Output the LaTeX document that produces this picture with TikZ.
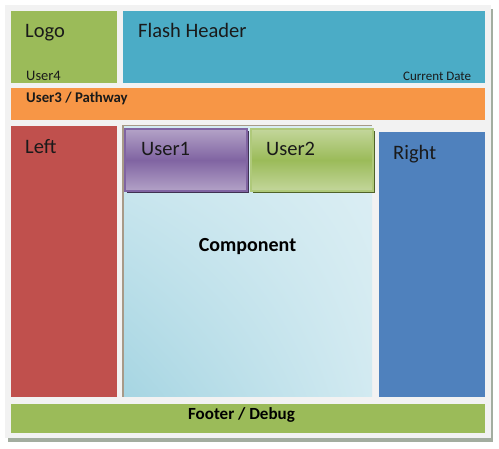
\documentclass[tikz,border=0pt]{standalone}
\usepackage{fontspec}
\setmainfont{Carlito}
\usetikzlibrary{shadings}
\definecolor{frameC}{HTML}{F2F2F2}
\definecolor{shadowC}{HTML}{A3ADA0}
\definecolor{greenC}{HTML}{9BBB59}
\definecolor{cyanC}{HTML}{4BACC6}
\definecolor{orangeC}{HTML}{F79646}
\definecolor{redC}{HTML}{C0504D}
\definecolor{blueC}{HTML}{4F81BD}
\definecolor{purpleC}{HTML}{8064A2}
\definecolor{purpleL}{HTML}{B3A2C7}
\definecolor{purpleD}{HTML}{3F3151}
\definecolor{greenL}{HTML}{C3D69B}
\definecolor{greenD}{HTML}{4F6228}
\definecolor{compDark}{HTML}{A6D5E2}
\definecolor{compLight}{HTML}{DDEFF4}
\definecolor{compMid}{HTML}{D2EAF1}
\definecolor{tanC}{HTML}{A89A88}
\definecolor{txtC}{HTML}{1A1A1A}
\begin{document}
\begin{tikzpicture}[x=1pt,y=-1pt,
  box/.style={draw=none, inner sep=0, outer sep=0, anchor=north west},
  lbl/.style={inner sep=0, anchor=base west, text=txtC},
  big/.style={font=\fontsize{20.5}{24}\selectfont},
  small/.style={font=\fontsize{14.5}{17}\selectfont},
  bsmall/.style={font=\bfseries\fontsize{14.8}{18}\selectfont}]
\useasboundingbox[fill=white] (0,0) rectangle (499,449);
% frame with shadow
\fill[shadowC] (8,9) rectangle (493,442);
\node[box, fill=frameC, minimum width=486pt, minimum height=433pt] (frame) at (5,5) {};
% top row
\node[box, fill=greenC, minimum width=106pt, minimum height=72pt] (logo) at (11,11) {};
\node[box, fill=cyanC, minimum width=362pt, minimum height=72pt] (flash) at (123,11) {};
\node[box, fill=orangeC, minimum width=474pt, minimum height=32pt] (user3) at (11,88) {};
% middle
\node[box, fill=redC, minimum width=106pt, minimum height=271pt] (left) at (11,126) {};
\draw[tanC, line width=1.5pt] (123,397) -- (123,126) -- (372,126);
\node[box, minimum width=248pt, minimum height=270pt,
  lower left=compDark, upper right=compLight, upper left=compMid, lower right=compMid] (comp) at (124,127) {};
\node[box, fill=blueC, minimum width=106pt, minimum height=265pt] (right) at (379,132) {};
% user boxes
\fill[purpleD] (127,131) rectangle (249,193);
\node[box, minimum width=122pt, minimum height=62pt, draw=purpleC, line width=1.5pt,
  top color=purpleL, bottom color=purpleL, middle color=purpleC] (user1) at (125,129) {};
\fill[greenD] (253,131) rectangle (375,193);
\node[box, minimum width=122pt, minimum height=62pt, draw=greenC!80!white, line width=1.5pt,
  top color=greenL, bottom color=greenL, middle color=greenC] (user2) at (251,129) {};
% footer
\node[box, fill=greenC, minimum width=474pt, minimum height=29pt] (footer) at (11,404) {};
% texts
\node[lbl, big] (tlogo) at (25,37.7) {Logo};
\node[lbl, small] (tuser4) at (26,81) {User4};
\node[lbl, big] (tflash) at (138,37.7) {Flash Header};
\node[lbl, font=\fontsize{13}{15}\selectfont] (tdate) at (403,81) {Current Date};
\node[lbl, bsmall] (tuser3) at (26,102.7) {User3 / Pathway};
\node[lbl, big] (tleft) at (25,154) {Left};
\node[lbl, big] (tright) at (393,160) {Right};
\node[lbl, big] (tuser1) at (141,155.7) {User1};
\node[lbl, big] (tuser2) at (266,155.7) {User2};
\node[inner sep=0, anchor=base, text=black, font=\bfseries\fontsize{20}{24}\selectfont] (tcomp) at (247.5,252) {Component};
\node[inner sep=0, anchor=base, text=black, font=\bfseries\fontsize{17}{20}\selectfont] (tfooter) at (241.5,420) {Footer / Debug};
\end{tikzpicture}
\end{document}
